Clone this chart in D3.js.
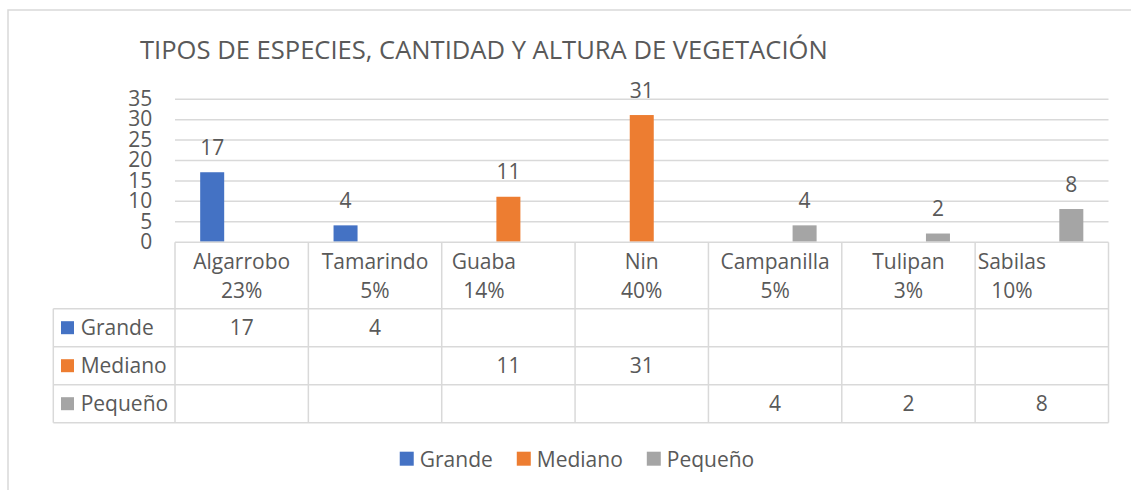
<!DOCTYPE html>
<html><head><meta charset="utf-8">
<script src="https://cdn.jsdelivr.net/npm/d3@7"></script>
<style>
body{margin:0;background:#fff}
text{font-family:"Open Sans",sans-serif;fill:#595959}
</style></head>
<body><svg id="c" width="1131" height="490"></svg>
<script>
function nb(n){return "\u00a0".repeat(n);}
const title = "TIPOS DE ESPECIES, CANTIDAD Y ALTURA DE VEGETACIÓN";
const categories = ["Algarrobo","Tamarindo","Guaba","Nin","Campanilla","Tulipan","Sabilas"];
const headerLine1 = ["Algarrobo","Tamarindo","Guaba"+nb(9),"Nin","Campanilla","Tulipan","Sabilas"+nb(11)];
const headerLine2 = ["23%","5%","14%"+nb(9),"40%","5%","3%","10%"+nb(11)];
const series = ["Grande","Mediano","Pequeño"];
const grande  = [17,4,null,null,null,null,null];
const mediano = [null,null,11,31,null,null,null];
const pequeno = [null,null,null,null,4,2,8];
const colors = ["#4472C4","#ED7D31","#A5A5A5"];
const yTicks = [0,5,10,15,20,25,30,35];

const values = [grande, mediano, pequeno];
const svg = d3.select("#c");
const gridColor = "#d9d9d9";
const fs = "21px";

// outer frame
svg.append("path").attr("d","M8,490V10H1131").attr("fill","none").attr("stroke",gridColor).attr("stroke-width",1.5);

// title
const t = svg.append("text").attr("x",140).attr("y",59.3).style("font-size","24px").text(title);
const tw = t.node().getComputedTextLength();
t.style("font-size",(24*688/tw)+"px");

const left = 175, right = 1108.5;
const x0 = d3.scaleBand().domain(categories).range([left,right]).padding(0);
const x1 = d3.scaleBand().domain(series).range([0,x0.bandwidth()]).paddingInner(0.186).paddingOuter(0.854);
const y = d3.scaleLinear().domain([0,35]).range([241.7,98.7]);

// y axis with gridlines
const ax = svg.append("g").attr("transform",`translate(${left},0)`)
  .call(d3.axisLeft(y).tickValues(yTicks).tickSizeInner(-(right-left)).tickSizeOuter(0).tickPadding(22.7));
ax.select(".domain").remove();
ax.selectAll(".tick line").attr("stroke",gridColor).attr("stroke-width",1.5)
  .filter(d=>d===0).remove();
ax.selectAll(".tick text").style("font-size",fs).attr("fill","#595959").style("font-family","'Open Sans',sans-serif");

// bars
series.forEach((s,i)=>{
  const data = categories.map((c,j)=>({c, v: values[i][j]})).filter(d=>d.v!=null);
  const g = svg.append("g");
  g.selectAll("rect").data(data).join("rect")
    .attr("x",d=>x0(d.c)+x1(s)).attr("width",x1.bandwidth())
    .attr("y",d=>y(d.v)).attr("height",d=>y(0)-y(d.v)).attr("fill",colors[i]);
  g.selectAll("text").data(data).join("text")
    .attr("x",d=>x0(d.c)+x1(s)+x1.bandwidth()/2).attr("y",d=>y(d.v)-17.5)
    .attr("text-anchor","middle").style("font-size",fs).text(d=>d.v);
});

// data table
const tableLeft = 53.3, headerTop = 242.3, tableBottom = 422.7;
const rowY = d3.scaleBand().domain(series).range([308.7, tableBottom]);
const lines = svg.append("g").attr("stroke",gridColor).attr("stroke-width",1.5);
lines.append("line").attr("x1",left).attr("x2",right).attr("y1",headerTop).attr("y2",headerTop);
series.forEach(s=>{
  lines.append("line").attr("x1",tableLeft).attr("x2",right).attr("y1",rowY(s)).attr("y2",rowY(s));
});
lines.append("line").attr("x1",tableLeft).attr("x2",right).attr("y1",tableBottom).attr("y2",tableBottom);
lines.append("line").attr("x1",tableLeft).attr("x2",tableLeft).attr("y1",rowY(series[0])).attr("y2",tableBottom);
categories.forEach(c=>{
  lines.append("line").attr("x1",x0(c)).attr("x2",x0(c)).attr("y1",headerTop).attr("y2",tableBottom);
});
lines.append("line").attr("x1",right).attr("x2",right).attr("y1",headerTop).attr("y2",tableBottom);

const hdr = svg.append("g").style("font-size",fs).attr("text-anchor","middle");
categories.forEach((c,j)=>{
  const cx = x0(c)+x0.bandwidth()/2;
  hdr.append("text").attr("x",cx).attr("y",269.3).text(headerLine1[j]);
  hdr.append("text").attr("x",cx).attr("y",298.3).text(headerLine2[j]);
});

series.forEach((s,i)=>{
  const ry = rowY(s);
  svg.append("rect").attr("x",61).attr("y",ry+rowY.bandwidth()/2-6.5).attr("width",13).attr("height",13).attr("fill",colors[i]);
  svg.append("text").attr("x",80.7).attr("y",ry+26.6).style("font-size",fs).text(s);
  categories.forEach((c,j)=>{
    const v = values[i][j];
    if(v!=null) svg.append("text").attr("x",x0(c)+x0.bandwidth()/2).attr("y",ry+26.6)
      .attr("text-anchor","middle").style("font-size",fs).text(v);
  });
});

// bottom legend
const lg = svg.append("g");
const items = series.map((s,i)=>{
  const g = lg.append("g");
  g.append("rect").attr("width",14).attr("height",14).attr("y",451.7).attr("fill",colors[i]);
  const tx = g.append("text").attr("x",20).attr("y",466.7).style("font-size",fs).text(s);
  return {g, w: 20+tx.node().getComputedTextLength()};
});
const gap = 24;
const total = d3.sum(items,d=>d.w)+gap*(items.length-1);
let xx = 577-total/2;
items.forEach(it=>{ it.g.attr("transform",`translate(${xx},0)`); xx += it.w+gap; });
</script></body></html>
